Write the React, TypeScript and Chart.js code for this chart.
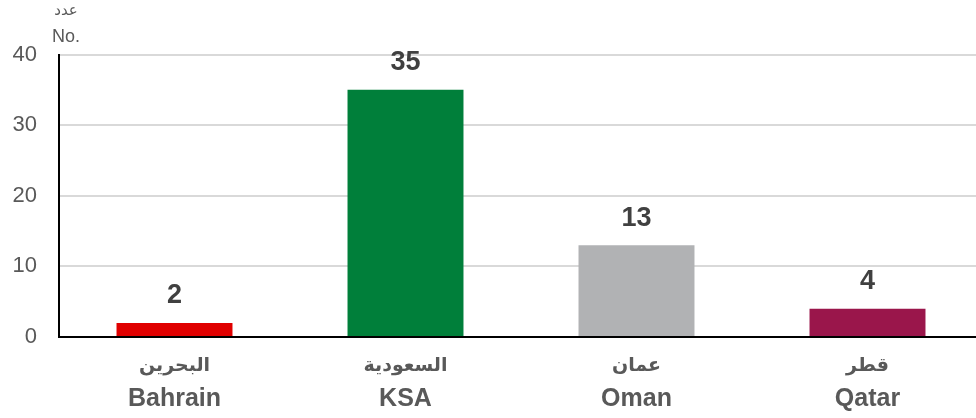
import React, { useEffect, useRef } from "react";
import { Chart, registerables } from "chart.js";

Chart.register(...registerables);

const categoriesAr = ["البحرين", "السعودية", "عمان", "قطر"];
const categoriesEn = ["Bahrain", "KSA", "Oman", "Qatar"];
const values = [2, 35, 13, 4];
const barColors = ["#E00000", "#007F3A", "#B1B2B4", "#9A164B"];
const yTicks = [0, 10, 20, 30, 40];
const axisTitleAr = "عدد";
const axisTitleEn = "No.";

const labelsPlugin = {
  id: "customLabels",
  afterDraw(chart: any) {
    const ctx = chart.ctx;
    const meta = chart.getDatasetMeta(0);
    const xScale = chart.scales.x;
    ctx.save();
    ctx.textAlign = "center";
    ctx.textBaseline = "middle";
    ctx.fillStyle = "#404040";
    ctx.font = "bold 27px Arial, 'Liberation Sans', sans-serif";
    meta.data.forEach((bar: any, i: number) => {
      ctx.fillText(String(values[i]), bar.x, bar.y - 27);
    });
    ctx.fillStyle = "#595959";
    categoriesEn.forEach((c, i) => {
      const x = xScale.getPixelForValue(i);
      ctx.font = "bold 19px Arial, 'Liberation Sans', 'DejaVu Sans', sans-serif";
      ctx.fillText(categoriesAr[i], x, 366);
      ctx.font = "bold 25px Arial, 'Liberation Sans', sans-serif";
      ctx.fillText(c, x, 399);
    });
    ctx.font = "15px Arial, 'Liberation Sans', 'DejaVu Sans', sans-serif";
    ctx.fillText(axisTitleAr, 66, 11);
    ctx.font = "18px Arial, 'Liberation Sans', sans-serif";
    ctx.fillText(axisTitleEn, 66, 37);
    ctx.restore();
  },
};

export default function App() {
  const ref = useRef<HTMLCanvasElement>(null);
  useEffect(() => {
    if (!ref.current) return;
    const chart = new Chart(ref.current, {
      type: "bar",
      data: {
        labels: categoriesEn,
        datasets: [
          {
            data: values,
            backgroundColor: barColors,
            barPercentage: 1,
            categoryPercentage: 0.502,
          },
        ],
      },
      options: {
        responsive: false,
        animation: false,
        layout: { padding: { top: 54.5, left: 0, right: 0, bottom: 0 } },
        plugins: { legend: { display: false }, tooltip: { enabled: false } },
        scales: {
          x: {
            grid: { display: false, drawTicks: false },
            border: { display: true, color: "#000000", width: 2 },
            ticks: { display: false },
            afterFit: (s: any) => {
              s.height = 81;
            },
          },
          y: {
            min: 0,
            max: 40,
            afterBuildTicks: (s: any) => {
              s.ticks = yTicks.map((v) => ({ value: v }));
            },
            grid: {
              color: (c: any) => (c.tick && c.tick.value === 0 ? "rgba(0,0,0,0)" : "#D9D9D9"),
              lineWidth: 2,
              drawTicks: false,
            },
            border: { display: true, color: "#000000", width: 2 },
            ticks: {
              padding: 22,
              color: "#595959",
              font: { size: 22, family: "Arial, 'Liberation Sans', sans-serif" },
            },
            afterFit: (s: any) => {
              s.width = 59;
            },
          },
        },
      },
      plugins: [labelsPlugin],
    });
    return () => chart.destroy();
  }, []);
  return (
    <div
      style={{
        position: "fixed",
        left: 0,
        top: 0,
        width: 976,
        height: 418,
        overflow: "hidden",
        background: "#fff",
      }}
    >
      <canvas ref={ref} width={983} height={418} style={{ display: "block", width: 983, height: 418 }} />
    </div>
  );
}
